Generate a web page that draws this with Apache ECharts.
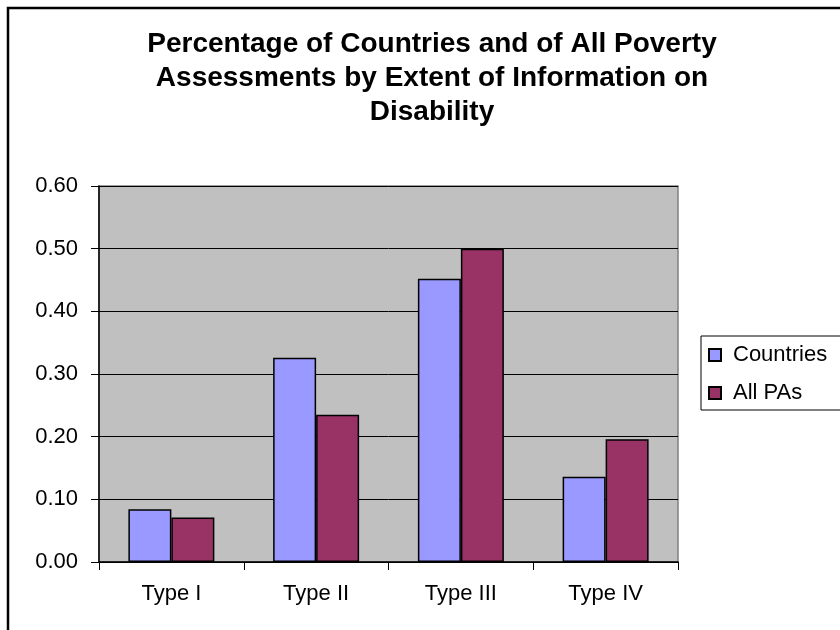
<!DOCTYPE html>
<html>
<head>
<meta charset="utf-8">
<script src="https://cdn.jsdelivr.net/npm/echarts@6/dist/echarts.min.js"></script>
<style>
html,body{margin:0;padding:0;background:#fff;}
#chart{width:840px;height:630px;}
</style>
</head>
<body>
<div id="chart"></div>
<script>
var categories = ['Type I', 'Type II', 'Type III', 'Type IV'];
var countries = [0.084, 0.326, 0.452, 0.136];
var allPAs = [0.071, 0.235, 0.500, 0.196];
var titleText = 'Percentage of Countries and of All Poverty\nAssessments by Extent of Information on\nDisability';

var chart = echarts.init(document.getElementById('chart'), null, {renderer: 'canvas'});
var font = 'Arial, "Liberation Sans", sans-serif';
chart.setOption({
  animation: false,
  backgroundColor: '#ffffff',
  title: {
    text: titleText,
    left: 432,
    textAlign: 'center',
    top: 27,
    padding: 0,
    textStyle: {fontFamily: font, fontWeight: 'bold', fontSize: 28, lineHeight: 34, color: '#000'}
  },
  graphic: [{
    type: 'rect',
    shape: {x: 8, y: 8, width: 900, height: 700},
    style: {fill: 'none', stroke: '#000', lineWidth: 2.5},
    silent: true
  }],
  legend: {
    left: 701, top: 336,
    orient: 'vertical',
    icon: 'rect',
    itemWidth: 12, itemHeight: 12,
    itemGap: 14,
    padding: [7, 50, 5, 7],
    borderColor: '#000', borderWidth: 1,
    backgroundColor: '#fff',
    textStyle: {fontFamily: font, fontSize: 22, lineHeight: 24, color: '#000', padding: [0, 0, 0, 7]},
    data: ['Countries', 'All PAs']
  },
  grid: {
    left: 99, right: 162, top: 186, bottom: 68,
    show: true, backgroundColor: '#c0c0c0', borderColor: '#808080', borderWidth: 1.5
  },
  xAxis: {
    type: 'category',
    data: categories,
    axisLine: {lineStyle: {color: '#000', width: 1.5}},
    axisTick: {show: true, length: 8, lineStyle: {color: '#000'}},
    axisLabel: {fontFamily: font, fontSize: 22, color: '#000', margin: 21},
    splitLine: {show: false}
  },
  yAxis: {
    type: 'value',
    min: 0, max: 0.6, interval: 0.1,
    axisLine: {show: true, lineStyle: {color: '#000', width: 1.5}},
    axisTick: {show: true, length: 8, lineStyle: {color: '#000'}},
    axisLabel: {fontFamily: font, fontSize: 22, color: '#000', margin: 21,
      formatter: function (v) { return v.toFixed(2); }},
    splitLine: {show: true, lineStyle: {color: '#000', width: 1}}
  },
  series: [
    {
      name: 'Countries', type: 'bar', data: countries,
      barGap: '0%', barCategoryGap: '40.6%',
      itemStyle: {color: '#9999ff', borderColor: '#000', borderWidth: 1.5}
    },
    {
      name: 'All PAs', type: 'bar', data: allPAs,
      itemStyle: {color: '#993366', borderColor: '#000', borderWidth: 1.5}
    }
  ]
});
</script>
</body>
</html>
